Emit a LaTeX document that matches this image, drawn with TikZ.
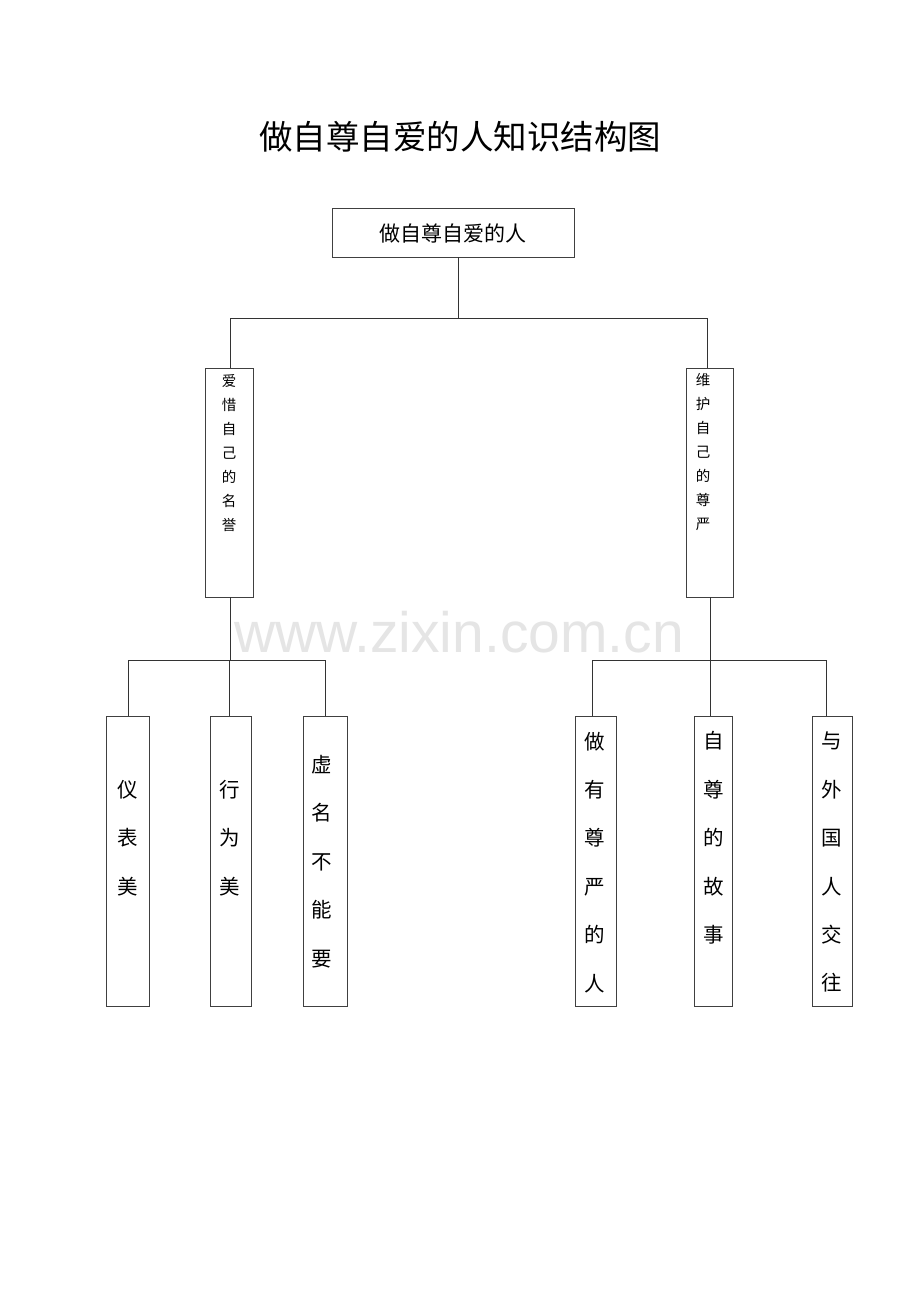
\documentclass[tikz,border=0pt]{standalone}
\usepackage{fontspec}
\newfontfamily\cjk{Noto Sans CJK SC}
\newfontfamily\wmfont{Liberation Sans}
\begin{document}
\begin{tikzpicture}[x=1pt,y=-1pt,
  box/.style={draw=black!75, line width=0.9pt, inner sep=0pt, outer sep=0pt},
  conn/.style={draw=black!80, line width=0.9pt},
  vt/.style={inner sep=0pt, outer sep=0pt, align=center},
  ttl/.style={inner sep=0pt, font=\cjk\fontsize{33.5}{40}\selectfont},
  midtxt/.style={vt, font=\cjk\fontsize{14.5}{24}\selectfont},
  leaftxt/.style={vt, font=\cjk\fontsize{20.5}{48.4}\selectfont}]
\useasboundingbox (0,0) rectangle (920,1302);
\fill[white] (0,0) rectangle (920,1302);
% watermark
\node[anchor=base, inner sep=0pt, text=black!10, font=\wmfont\fontsize{57}{60}\selectfont] (wm) at (459,652) {www.zixin.com.cn};
% title
\node[ttl] (title) at (460,137) {做自尊自爱的人知识结构图};
% top box
\node[box, minimum width=242pt, minimum height=49pt] (top) at (453.5,232.5) {};
\node[inner sep=0pt, font=\cjk\fontsize{21}{24}\selectfont] (toptxt) at (453,233) {做自尊自爱的人};
% mid boxes
\node[box, minimum width=48pt, minimum height=229pt] (L) at (229,482.5) {};
\node[box, minimum width=47pt, minimum height=229pt] (R) at (710.3,482.5) {};
\node[midtxt] (Ltxt) at (229,453) {爱\\惜\\自\\己\\的\\名\\誉};
\node[midtxt] (Rtxt) at (703,452) {维\\护\\自\\己\\的\\尊\\严};
% leaves
\node[box, minimum width=42.6pt, minimum height=290pt] (A1) at (128,861.3) {};
\node[box, minimum width=41pt, minimum height=290pt] (A2) at (230.8,861.3) {};
\node[box, minimum width=44pt, minimum height=290pt] (A3) at (325.3,861.3) {};
\node[box, minimum width=40.7pt, minimum height=290pt] (B1) at (595.7,861.3) {};
\node[box, minimum width=38.4pt, minimum height=290pt] (B2) at (713.5,861.3) {};
\node[box, minimum width=39.7pt, minimum height=290pt] (B3) at (832.2,861.3) {};
\node[leaftxt] (A1t) at (127.7,838) {仪\\表\\美};
\node[leaftxt] (A2t) at (229.5,838) {行\\为\\美};
\node[leaftxt] (A3t) at (322,861.5) {虚\\名\\不\\能\\要};
\node[leaftxt] (B1t) at (595,862.3) {做\\有\\尊\\严\\的\\人};
\node[leaftxt] (B2t) at (714,838) {自\\尊\\的\\故\\事};
\node[leaftxt] (B3t) at (831.7,862.3) {与\\外\\国\\人\\交\\往};
% connector coordinates
\coordinate (j1) at (458,318);
\coordinate (jl) at (230,318);
\coordinate (jr) at (707,318);
\coordinate (j2) at (230,660);
\coordinate (j3) at (710,660);
\coordinate (a1) at (128,660);
\coordinate (a2) at (229.3,660);
\coordinate (a3) at (325,660);
\coordinate (b1) at (592,660);
\coordinate (b2) at (710,660);
\coordinate (b3) at (826.7,660);
% connectors
\draw[conn] (j1 |- top.south) -- (j1);
\draw[conn] (jl |- L.north) -- (jl) -- (jr) -- (jr |- R.north);
\draw[conn] (j2 |- L.south) -- (j2);
\draw[conn] (a1 |- A1.north) -- (a1) -- (a3) -- (a3 |- A3.north);
\draw[conn] (a2) -- (a2 |- A2.north);
\draw[conn] (j3 |- R.south) -- (j3);
\draw[conn] (b1 |- B1.north) -- (b1) -- (b3) -- (b3 |- B3.north);
\draw[conn] (b2) -- (b2 |- B2.north);
\end{tikzpicture}
\end{document}
